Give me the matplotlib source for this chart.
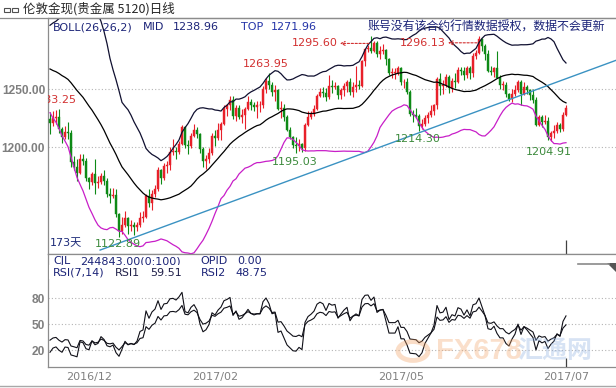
import matplotlib
matplotlib.use('Agg')
import matplotlib.pyplot as plt
import numpy as np
import pandas as pd
from matplotlib.lines import Line2D
from matplotlib.patches import Polygon, Circle
from matplotlib.transforms import offset_copy

plt.rcParams['font.family'] = ['DejaVu Sans', 'Noto Sans CJK SC']

# ---------------- data (daily XAU, 2016-11-14 .. 2017-07-17) ----------------
pre_closes = [1257, 1260, 1253, 1255, 1257, 1251, 1259, 1262, 1269, 1266, 1267, 1264, 1273,
              1267, 1268, 1275, 1277, 1288, 1297, 1302, 1304, 1281, 1274, 1275, 1266, 1224]

opens = [1224, 1221, 1225, 1226, 1216, 1209, 1213, 1212, 1187, 1183, 1178, 1190, 1188,
         1173, 1170, 1177, 1169, 1170, 1175, 1171, 1160, 1158, 1159, 1142, 1128, 1133, 1139, 1132, 1133, 1131, 1133, 1139, 1140, 1158,
         1152, 1160, 1164, 1180, 1173, 1184, 1185, 1196, 1197, 1196, 1203, 1217, 1202, 1201, 1210, 1215, 1211, 1198, 1188, 1190, 1195,
         1210, 1208, 1215, 1220, 1233, 1236, 1241, 1227, 1234, 1226, 1228, 1233, 1239, 1236, 1235, 1236, 1236, 1250, 1257, 1254,
         1248, 1249, 1233, 1234, 1226, 1215, 1209, 1202, 1201, 1203, 1199, 1219, 1226, 1229, 1233, 1244, 1248, 1247, 1243, 1253, 1252, 1253, 1245,
         1249, 1253, 1256, 1248, 1252, 1254, 1253, 1274, 1285, 1286, 1283, 1290, 1280, 1283, 1284, 1276, 1264, 1264, 1264,
         1268, 1256, 1256, 1248, 1229, 1228, 1227, 1218, 1220, 1225, 1228, 1231, 1236, 1259, 1253, 1254, 1261, 1251, 1257, 1256, 1267, 1266, 1262,
         1268, 1264, 1279, 1281, 1293, 1287, 1280, 1266, 1265, 1268, 1260, 1254, 1254, 1246, 1242, 1246, 1249, 1256, 1246, 1252, 1249, 1245,
         1241, 1219, 1226, 1222, 1223, 1209, 1212, 1214, 1219, 1216, 1228]

highs = [1230, 1231, 1232, 1233, 1217, 1218, 1222, 1215, 1192, 1190, 1194, 1194, 1191,
         1174, 1179, 1190, 1175, 1178, 1180, 1173, 1165, 1165, 1164, 1143, 1140, 1145, 1140, 1137, 1135, 1135, 1144, 1145, 1160, 1164,
         1163, 1167, 1183, 1181, 1186, 1188, 1200, 1207, 1200, 1205, 1219, 1218, 1206, 1212, 1220, 1217, 1212, 1200, 1193, 1199, 1212,
         1215, 1221, 1222, 1236, 1237, 1244, 1244, 1236, 1236, 1233, 1235, 1244, 1242, 1239, 1240, 1240, 1253, 1260, 1263.95, 1256,
         1254, 1250, 1240, 1237, 1228, 1217, 1210, 1209, 1207, 1204, 1221, 1231, 1231, 1236, 1246, 1251, 1252, 1251, 1262, 1258, 1256, 1254, 1251,
         1255, 1258, 1260, 1256, 1270, 1258, 1275, 1285, 1288, 1295.60, 1292, 1292, 1287, 1289, 1285, 1277, 1268, 1268, 1270,
         1269, 1259, 1260, 1249, 1232, 1234, 1229, 1224, 1228, 1230, 1236, 1237, 1261, 1264, 1258, 1263, 1262, 1260, 1264, 1269, 1269, 1269, 1270,
         1270, 1281, 1284, 1296.13, 1294, 1289, 1284, 1270, 1269, 1283, 1262, 1257, 1256, 1247, 1250, 1254, 1258, 1258, 1256, 1254, 1250, 1250,
         1243, 1228, 1228, 1228, 1226, 1214, 1219, 1222, 1221, 1230, 1236]

lows = [1211, 1218, 1220, 1212, 1204, 1207, 1207, 1183, 1180, 1171, 1177, 1185, 1171,
        1164, 1167, 1160, 1165, 1168, 1167, 1157, 1152, 1156, 1140, 1122.89, 1125, 1131, 1125, 1128, 1124, 1128, 1131, 1135, 1139, 1148,
        1146, 1157, 1162, 1168, 1172, 1178, 1180, 1193, 1190, 1194, 1202, 1199, 1194, 1199, 1209, 1208, 1195, 1183, 1181, 1186, 1193,
        1201, 1206, 1206, 1219, 1227, 1232, 1224, 1223, 1224, 1221, 1216, 1232, 1232, 1231, 1225, 1230, 1234, 1247, 1250, 1244,
        1240, 1232, 1225, 1223, 1214, 1207, 1199, 1195.03, 1197, 1196, 1197, 1218, 1224, 1227, 1232, 1243, 1243, 1240, 1242, 1247, 1250, 1242, 1242,
        1244, 1248, 1245, 1243, 1248, 1250, 1252, 1270, 1282, 1281, 1282, 1278, 1276, 1280, 1271, 1262, 1260, 1259, 1262,
        1254, 1251, 1246, 1227, 1222, 1225, 1214.30, 1216, 1218, 1221, 1226, 1228, 1233, 1245, 1246, 1252, 1247, 1248, 1251, 1255, 1262, 1258, 1260,
        1259, 1261, 1276, 1280, 1283, 1275, 1265, 1262, 1261, 1260, 1250, 1249, 1243, 1240, 1239, 1244, 1248, 1236, 1245, 1246, 1241, 1238,
        1218, 1218, 1217, 1220, 1206, 1204.91, 1208, 1212, 1213, 1214, 1227]

closes = [1221, 1225, 1226, 1216, 1209, 1213, 1212, 1187, 1183, 1178, 1190, 1188, 1173,
          1170, 1177, 1169, 1170, 1175, 1171, 1160, 1158, 1159, 1142, 1128, 1133, 1139, 1132, 1133, 1131, 1133, 1139, 1140, 1158, 1152,
          1160, 1164, 1180, 1173, 1184, 1185, 1196, 1197, 1196, 1203, 1217, 1202, 1201, 1210, 1215, 1211, 1198, 1188, 1190, 1195, 1210,
          1208, 1215, 1220, 1233, 1236, 1241, 1227, 1234, 1226, 1228, 1233, 1239, 1236, 1235, 1236, 1236, 1250, 1257, 1254, 1248,
          1249, 1233, 1234, 1226, 1215, 1209, 1202, 1201, 1203, 1199, 1219, 1226, 1229, 1233, 1244, 1248, 1247, 1243, 1253, 1252, 1253, 1245, 1249,
          1253, 1256, 1248, 1252, 1254, 1253, 1274, 1285, 1286, 1283, 1290, 1280, 1283, 1284, 1276, 1264, 1264, 1264, 1268,
          1256, 1256, 1248, 1229, 1228, 1227, 1218, 1220, 1225, 1228, 1231, 1236, 1259, 1253, 1254, 1261, 1251, 1257, 1256, 1267, 1266, 1262, 1268,
          1264, 1279, 1281, 1293, 1287, 1280, 1266, 1265, 1268, 1260, 1254, 1254, 1246, 1242, 1246, 1249, 1256, 1246, 1252, 1249, 1245, 1241,
          1219, 1226, 1222, 1223, 1209, 1212, 1214, 1219, 1216, 1228, 1234]

month_ticks = [13, 55, 117, 172]
month_labels = ['2016/12', '2017/02', '2017/05', '2017/07']
price_ticks = [1200, 1250]
price_labels = ['1200.00', '1250.00']
rsi_ticks = [20, 50, 80]
trend_idx = [16.7, 188.7]
trend_price = [1111.2, 1275.0]

W, H = 616, 388
fig = plt.figure(figsize=(W / 100, H / 100), dpi=100)
fig.patch.set_facecolor('white')

def fx(x):
    return x / W

def fy(y):
    return 1 - y / H

ax1 = fig.add_axes([fx(48), fy(254), 1 - fx(48), (254 - 18) / H])
ax2 = fig.add_axes([fx(48), fy(367), 1 - fx(48), (367 - 254) / H])

n = len(closes)
idx = np.arange(n)
XL = (-0.67, 188.67)
SPINE = '#8c8c8c'
TICKC = '#7f7f7f'
for ax in (ax1, ax2):
    ax.set_xlim(*XL)
    ax.spines['right'].set_visible(False)
    for s in ('left', 'top', 'bottom'):
        ax.spines[s].set_color(SPINE)
        ax.spines[s].set_linewidth(0.9)
    ax.tick_params(length=0, colors=TICKC, labelsize=8, pad=2)
    ax.set_facecolor('white')

# ---------------- main panel ----------------
ax1.set_ylim(1107.8, 1311.5)
ax1.set_xticks([])
ax1.set_yticks(price_ticks, price_labels)
for lab_ in ax1.get_yticklabels():
    lab_.set_fontweight('bold')
    lab_.set_family(['Liberation Sans'])
    lab_.set_fontsize(8.6)
for v in price_ticks:
    ax1.axhline(v, color='#b4b4b4', lw=0.8, ls=(0, (1, 2)), zorder=0)

all_c = pd.Series(pre_closes + closes, dtype=float)
mid = all_c.rolling(26).mean()
sd = all_c.rolling(26).std(ddof=0)
npre = len(pre_closes)
mid_v = mid.values[npre:]
top_v = (mid + 2 * sd).values[npre:]
bot_v = (mid - 2 * sd).values[npre:]

UP = '#e8202a'
DN = '#0e8a16'
o = np.array(opens, float); h = np.array(highs, float)
l = np.array(lows, float); c = np.array(closes, float)
up = c >= o
cols = np.where(up, UP, DN)
ax1.vlines(idx, l, h, colors=cols, lw=0.8, zorder=2)
body = np.maximum(np.abs(c - o), 0.6)
ax1.bar(idx, body, bottom=np.minimum(o, c), width=0.66, color=cols, edgecolor=cols,
        linewidth=0.3, zorder=3)

ax1.plot(idx, top_v, color='#101030', lw=0.9, zorder=4)
ax1.plot(idx, mid_v, color='#000000', lw=0.9, zorder=4)
ax1.plot(idx, bot_v, color='#c81ec8', lw=0.9, zorder=4)
ax1.plot(trend_idx, trend_price, color='#3a92c2', lw=1.0, zorder=4)

RED = '#d23030'
GRN = '#3c8a3c'
FS = 8

def lab(i, val, s, dx, dy, color, ha='center'):
    ax1.annotate(s, (i, val), xytext=(dx, dy), textcoords='offset pixels',
                 ha=ha, va='center', color=color, fontsize=FS, zorder=6)

imax1 = int(np.argmax(h[:90]))
lab(imax1, h[imax1], f'{h[imax1]:.2f}', -3, 9, RED)
imin1 = int(np.argmin(l[:60]))
lab(imin1, l[imin1], f'{l[imin1]:.2f}', -1, -7, GRN)
imin2 = 60 + int(np.argmin(l[60:100]))
lab(imin2, l[imin2], f'{l[imin2]:.2f}', -1, -9, GRN)
imin3 = 100 + int(np.argmin(l[100:140]))
lab(imin3, l[imin3], f'{l[imin3]:.2f}', -1.5, -8.6, GRN)
imin4 = 150 + int(np.argmin(l[150:]))
lab(imin4, l[imin4], f'{l[imin4]:.2f}', -2, -10.7, GRN)

for a, b in ((95, 125), (130, 160)):
    im = a + int(np.argmax(h[a:b]))
    ax1.annotate(f'{h[im]:.2f}', (im, h[im]), xytext=(-33, -7), textcoords='offset pixels',
                 ha='right', va='center', color=RED, fontsize=FS, zorder=6)
    t0 = offset_copy(ax1.transData, fig=fig, x=-31, y=-7, units='dots')
    t1 = offset_copy(ax1.transData, fig=fig, x=-2, y=-7, units='dots')
    x0, y0 = t0.transform((im, h[im]))
    x1, y1 = t1.transform((im, h[im]))
    ax1.annotate('', xy=(x0, y0), xycoords='figure pixels', xytext=(x1, y1), textcoords='figure pixels',
                 arrowprops=dict(arrowstyle='->', color=RED, lw=0.8, ls=(0, (2, 1.5)),
                                 shrinkA=0, shrinkB=0, mutation_scale=7), zorder=6)

ax1.text(9, 1240.5, '1283.25', ha='right', va='center', color=RED, fontsize=FS, clip_on=True, zorder=6)
ax1.text(2 / 568, 11 / 236, '173天', transform=ax1.transAxes, ha='left', va='center',
         color='#1c2a78', fontsize=FS, zorder=6)

# ---------------- RSI panel ----------------
def tdx_sma(x, nn):
    out = np.empty(len(x))
    out[0] = x[0]
    for k in range(1, len(x)):
        out[k] = (x[k] + (nn - 1) * out[k - 1]) / nn
    return out

diff = np.diff(all_c.values)
upd = np.maximum(diff, 0)
absd = np.abs(diff)
rsi7 = (tdx_sma(upd, 7) / tdx_sma(absd, 7) * 100)[npre - 1:]
rsi14 = (tdx_sma(upd, 14) / tdx_sma(absd, 14) * 100)[npre - 1:]

ax2.set_ylim(0.38, 130.8)
ax2.set_yticks(rsi_ticks, [str(v) for v in rsi_ticks])
for lb in ax2.get_yticklabels():
    lb.set_fontweight('bold')
    lb.set_family(['Liberation Sans'])
    lb.set_fontsize(8.6)
for v in rsi_ticks:
    ax2.axhline(v, color='#b4b4b4', lw=0.8, ls=(0, (1, 2)), zorder=0)
ax2.plot(idx, rsi7, color='#101018', lw=0.8, zorder=3)
ax2.plot(idx, rsi14, color='#101018', lw=0.8, zorder=3)
ax2.set_xticks(month_ticks, month_labels)
ax2.tick_params(axis='x', pad=3.5, labelsize=8, colors='#808080')
ax2.vlines([n - 1], [0.38], [11], colors='#404040', lw=0.9, zorder=5)
ax1.vlines([n - 1], [1107.8], [1119.5], colors='#404040', lw=0.9, zorder=5)

# ---------------- header texts ----------------
NAVY = '#1c2478'
BLUE = '#2434a8'

def ftext(x, y, s, **kw):
    kw.setdefault('fontsize', FS)
    kw.setdefault('va', 'center')
    return fig.text(fx(x), fy(y), s, **kw)

ftext(23, 9, '伦敦金现(贵金属 5120)日线', family=['Noto Sans CJK SC', 'DejaVu Sans'],
      fontsize=9, color='#262626')
fig.patches.append(plt.Rectangle((fx(4), fy(11.5)), 6 / W, 4 / H, transform=fig.transFigure,
                                 fill=False, ec='#505050', lw=0.8))
fig.patches.append(plt.Rectangle((fx(12), fy(11.5)), 6 / W, 4 / H, transform=fig.transFigure,
                                 fill=False, ec='#505050', lw=0.8))
fig.add_artist(Line2D([0, 1], [fy(18), fy(18)], color=SPINE, lw=0.9))
fig.add_artist(Line2D([0, 1], [fy(386), fy(386)], color='#a8a8a8', lw=1.0))

ftext(53, 27.5, 'BOLL(26,26,2)', color=NAVY)
ftext(143, 27.5, 'MID', color=NAVY)
ftext(173, 27.5, '1238.96', color=NAVY)
ftext(241, 27.5, 'TOP', color=BLUE)
ftext(271, 27.5, '1271.96', color=BLUE)
ftext(368, 27.5, '账号没有该合约行情数据授权，数据不会更新', family=['Noto Sans CJK SC', 'DejaVu Sans'],
      fontsize=8.6, color=NAVY)

# CJL line (partly hidden) and RSI header
yc = (367 - 261.5) / 113
for xx, s in ((53, 'CJL'), (80, '244843.00(0:100)'), (200, 'OPID'), (237, '0.00')):
    ax2.text((xx - 48) / 568, yc, s, transform=ax2.transAxes, ha='left', va='center',
             color=NAVY, fontsize=FS, clip_on=True, zorder=6)
ax2.add_patch(plt.Rectangle((0.002, (367 - 279) / 113), 0.5, 14 / 113, transform=ax2.transAxes,
                            fc='white', ec='none', zorder=7))
for xx, s, col in ((53, 'RSI(7,14)', NAVY), (115, 'RSI1', '#20204a'), (150, '59.51', '#20204a'),
                   (201, 'RSI2', NAVY), (235, '48.75', NAVY)):
    ax2.text((xx - 48) / 568, (367 - 272.5) / 113, s, transform=ax2.transAxes, ha='left',
             va='center', color=col, fontsize=FS, zorder=8)

# UI marker at top right of RSI panel
fig.add_artist(Line2D([fx(578), fx(609)], [fy(264), fy(264)], color='#8a8a8a', lw=1.2))
fig.add_artist(Polygon([[fx(607), fy(263)], [fx(616), fy(263)], [fx(616), fy(272)]],
                       closed=True, transform=fig.transFigure, fc='#555555', ec='none'))

# watermark
fig.add_artist(Circle((fx(413), fy(351)), 15 / W, transform=fig.transFigure, fill=False,
                      ec='#f2a060', lw=3.5, alpha=0.35))
ftext(436, 351, 'FX678', family=['Liberation Sans'], fontsize=21, fontweight='bold',
      color='#f3a66a', alpha=0.35)
ftext(517, 351, '汇通网', family=['Noto Sans CJK SC'], fontsize=18, fontweight='bold',
      color='#8fb0e0', alpha=0.35)

fig.savefig('out.png', dpi=100, facecolor='white')
